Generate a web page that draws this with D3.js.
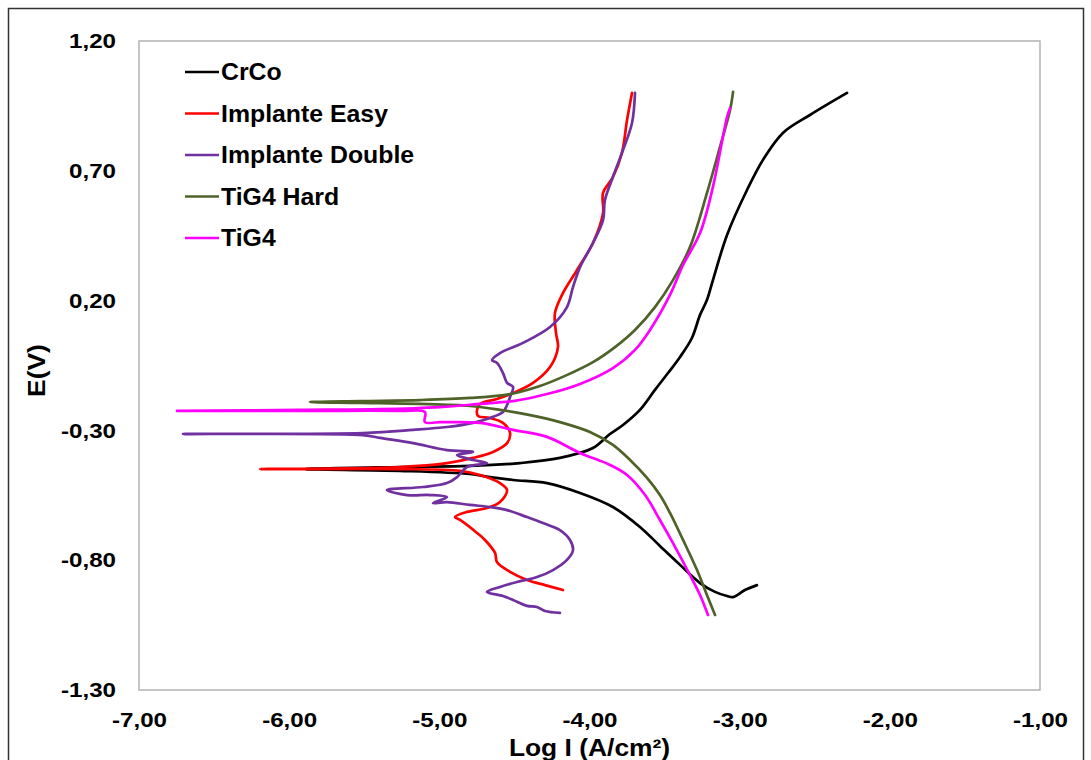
<!DOCTYPE html>
<html>
<head>
<meta charset="utf-8">
<script src="https://cdn.jsdelivr.net/npm/d3@7"></script>
<style>
  body { margin: 0; background: #fff; }
  svg text { font-family: "Liberation Sans", Arial, sans-serif; font-weight: bold; fill: #000; }
</style>
</head>
<body>
<svg id="chart" width="1091" height="760"></svg>
<script>
// Polarization curves: [log I (A/cm²), E (V)], from the cathodic end up to the anodic end
const crco = [
  [-2.885,-0.896],[-2.965,-0.915],[-3.044,-0.942],[-3.084,-0.938],[-3.164,-0.922],[-3.264,-0.888],
  [-3.397,-0.818],[-3.531,-0.745],[-3.664,-0.672],[-3.844,-0.595],[-4.063,-0.541],[-4.283,-0.503],
  [-4.509,-0.491],[-4.663,-0.480],[-4.796,-0.468],[-5.262,-0.456],[-5.895,-0.449],
  [-5.262,-0.441],[-4.796,-0.437],[-4.463,-0.426],[-4.197,-0.406],[-3.977,-0.368],[-3.864,-0.314],
  [-3.777,-0.279],[-3.664,-0.221],[-3.564,-0.144],[-3.477,-0.079],[-3.397,-0.017],[-3.318,0.056],
  [-3.264,0.145],[-3.218,0.202],[-3.178,0.279],[-3.084,0.453],[-2.951,0.626],[-2.845,0.742],
  [-2.712,0.846],[-2.532,0.915],[-2.285,1.000]
];

const implanteEasy = [
  [-4.177,-0.915],[-4.296,-0.896],[-4.416,-0.876],[-4.529,-0.845],[-4.616,-0.807],[-4.629,-0.772],
  [-4.696,-0.722],[-4.749,-0.695],[-4.862,-0.645],[-4.896,-0.634],[-4.816,-0.614],[-4.683,-0.599],
  [-4.596,-0.576],[-4.549,-0.530],[-4.596,-0.503],[-4.729,-0.472],[-4.862,-0.456],[-5.262,-0.449],
  [-6.194,-0.449],
  [-5.262,-0.441],[-4.949,-0.426],[-4.776,-0.406],[-4.643,-0.383],[-4.549,-0.349],[-4.529,-0.310],
  [-4.576,-0.271],[-4.663,-0.252],[-4.743,-0.244],[-4.749,-0.221],[-4.729,-0.198],[-4.616,-0.179],
  [-4.509,-0.156],[-4.376,-0.117],[-4.263,-0.056],[-4.210,0.021],[-4.223,0.075],[-4.230,0.152],
  [-4.177,0.229],[-4.083,0.318],[-3.977,0.422],[-3.910,0.537],[-3.910,0.614],[-3.844,0.676],
  [-3.784,0.769],[-3.750,0.896],[-3.717,1.000]
];

const implanteDouble = [
  [-4.197,-1.003],[-4.296,-0.996],[-4.350,-0.980],[-4.416,-0.976],[-4.509,-0.953],[-4.576,-0.938],
  [-4.683,-0.922],[-4.596,-0.903],[-4.483,-0.884],[-4.350,-0.865],[-4.243,-0.838],[-4.150,-0.799],
  [-4.110,-0.761],[-4.130,-0.722],[-4.197,-0.684],[-4.310,-0.657],[-4.416,-0.634],[-4.549,-0.607],
  [-4.663,-0.595],[-4.796,-0.587],[-4.949,-0.576],[-5.042,-0.580],[-4.949,-0.557],[-5.062,-0.549],
  [-5.215,-0.549],[-5.349,-0.530],[-5.109,-0.518],[-4.949,-0.503],[-4.882,-0.480],[-4.816,-0.441],
  [-4.683,-0.426],[-4.776,-0.414],[-4.882,-0.395],[-4.776,-0.383],[-4.949,-0.376],[-5.175,-0.349],
  [-5.395,-0.329],[-5.508,-0.318],[-6.707,-0.314],
  [-5.508,-0.310],[-5.175,-0.298],[-4.949,-0.287],[-4.776,-0.271],[-4.663,-0.252],[-4.576,-0.229],
  [-4.549,-0.202],[-4.529,-0.171],[-4.509,-0.133],[-4.549,-0.117],[-4.576,-0.079],[-4.616,-0.040],
  [-4.649,-0.029],[-4.596,-0.002],[-4.443,0.037],[-4.263,0.098],[-4.150,0.175],[-4.110,0.252],
  [-4.063,0.329],[-3.977,0.422],[-3.910,0.510],[-3.897,0.588],[-3.844,0.676],[-3.784,0.769],
  [-3.717,0.884],[-3.697,1.000]
];

const tig4Hard = [
  [-3.164,-1.011],[-3.218,-0.934],[-3.284,-0.838],[-3.377,-0.722],[-3.464,-0.618],[-3.531,-0.549],
  [-3.617,-0.483],[-3.730,-0.414],[-3.844,-0.356],[-3.997,-0.306],[-4.197,-0.268],[-4.396,-0.241],
  [-4.596,-0.221],[-4.796,-0.206],[-5.129,-0.198],[-5.528,-0.194],[-5.861,-0.191],
  [-5.528,-0.187],[-5.129,-0.183],[-4.796,-0.175],[-4.529,-0.160],[-4.330,-0.129],[-4.163,-0.090],
  [-3.977,-0.037],[-3.830,0.021],[-3.697,0.087],[-3.564,0.175],[-3.444,0.279],[-3.331,0.406],
  [-3.218,0.614],[-3.131,0.792],[-3.064,0.934],[-3.044,1.004]
];

const tig4 = [
  [-3.211,-1.011],[-3.264,-0.934],[-3.331,-0.857],[-3.444,-0.734],[-3.531,-0.645],[-3.630,-0.549],
  [-3.750,-0.472],[-3.864,-0.433],[-4.063,-0.387],[-4.283,-0.325],[-4.509,-0.298],[-4.729,-0.271],
  [-4.962,-0.268],[-4.996,-0.268],[-5.096,-0.268],[-5.096,-0.229],[-5.262,-0.225],[-5.928,-0.225],
  [-6.747,-0.225],
  [-5.928,-0.221],[-5.395,-0.218],[-4.996,-0.210],[-4.729,-0.198],[-4.509,-0.187],[-4.283,-0.160],
  [-4.063,-0.121],[-3.844,-0.060],[-3.697,0.010],[-3.597,0.087],[-3.464,0.222],[-3.377,0.337],
  [-3.264,0.460],[-3.178,0.638],[-3.084,0.907],[-3.064,0.942]
];

const seriesNames  = ["CrCo", "Implante Easy", "Implante Double", "TiG4 Hard", "TiG4"];
const seriesColors = ["#000000", "#ff0000", "#7030a0", "#4f6228", "#ff00ff"];
const seriesData   = [crco, implanteEasy, implanteDouble, tig4Hard, tig4];

const xTicks = [-7, -6, -5, -4, -3, -2, -1];
const yTicks = [1.2, 0.7, 0.2, -0.3, -0.8, -1.3];

const xTitle = "Log I (A/cm²)";
const yTitle = "E(V)";

// Layout
const plot = { left: 139, right: 1040, top: 41, bottom: 690 };
const textStretch = 1.15;   // text is drawn slightly wider than the font's natural width

const svg = d3.select("#chart");

// Outer chart frame
svg.append("rect")
  .attr("x", 8.5).attr("y", 8.5)
  .attr("width", 1075).attr("height", 780)
  .attr("fill", "#fff").attr("stroke", "#333").attr("stroke-width", 1.5);

const x = d3.scaleLinear().domain([-7, -1]).range([plot.left, plot.right]);
const y = d3.scaleLinear().domain([-1.3, 1.2]).range([plot.bottom, plot.top]);

const locale = d3.formatLocale({ decimal: ",", thousands: ".", grouping: [3], currency: ["", ""], minus: "-" });
const fmt = locale.format(".2f");

// Plot area border
svg.append("rect")
  .attr("x", plot.left).attr("y", plot.top)
  .attr("width", plot.right - plot.left).attr("height", plot.bottom - plot.top)
  .attr("fill", "none").attr("stroke", "#b3b3b3").attr("stroke-width", 1.5);

// Axes (labels only, the frame comes from the border)
const xAxis = d3.axisBottom(x).tickValues(xTicks).tickFormat(fmt).tickSize(0).tickPadding(22);
const yAxis = d3.axisLeft(y).tickValues(yTicks).tickFormat(fmt).tickSize(0).tickPadding(20);

const gx = svg.append("g").attr("transform", `translate(0,${plot.bottom})`).call(xAxis);
const gy = svg.append("g").attr("transform", `translate(${plot.left},0)`).call(yAxis);
[gx, gy].forEach(g => {
  g.select(".domain").remove();
  g.selectAll("text")
    .attr("font-size", 21)
    .attr("font-family", "Liberation Sans, Arial, sans-serif")
    .attr("font-weight", "bold").attr("fill", "#000")
    .attr("transform", `scale(${textStretch},1)`);
});

svg.append("text")
  .attr("transform", `translate(${(plot.left + plot.right) / 2},756) scale(1.1,1)`)
  .attr("text-anchor", "middle").attr("font-size", 24)
  .text(xTitle);

svg.append("text")
  .attr("transform", `translate(45,${(plot.top + plot.bottom) / 2 + 5}) rotate(-90) scale(1.1,1)`)
  .attr("text-anchor", "middle").attr("font-size", 24)
  .text(yTitle);

// Curves
const line = d3.line()
  .x(d => x(d[0]))
  .y(d => y(d[1]))
  .curve(d3.curveCatmullRom.alpha(0.5));

svg.append("g").selectAll("path")
  .data(seriesData)
  .join("path")
  .attr("d", line)
  .attr("fill", "none")
  .attr("stroke", (d, i) => seriesColors[i])
  .attr("stroke-width", 2.7)
  .attr("stroke-linejoin", "round")
  .attr("stroke-linecap", "round");

// Legend
const legend = svg.append("g");
const rowY = i => 72 + i * 41.5;
seriesNames.forEach((name, i) => {
  legend.append("line")
    .attr("x1", 185).attr("x2", 219)
    .attr("y1", rowY(i)).attr("y2", rowY(i))
    .attr("stroke", seriesColors[i]).attr("stroke-width", 2.7);
  legend.append("text")
    .attr("transform", `translate(221,${rowY(i)}) scale(1.08,1)`)
    .attr("dy", "0.36em").attr("font-size", 23)
    .text(name);
});
</script>
</body>
</html>
